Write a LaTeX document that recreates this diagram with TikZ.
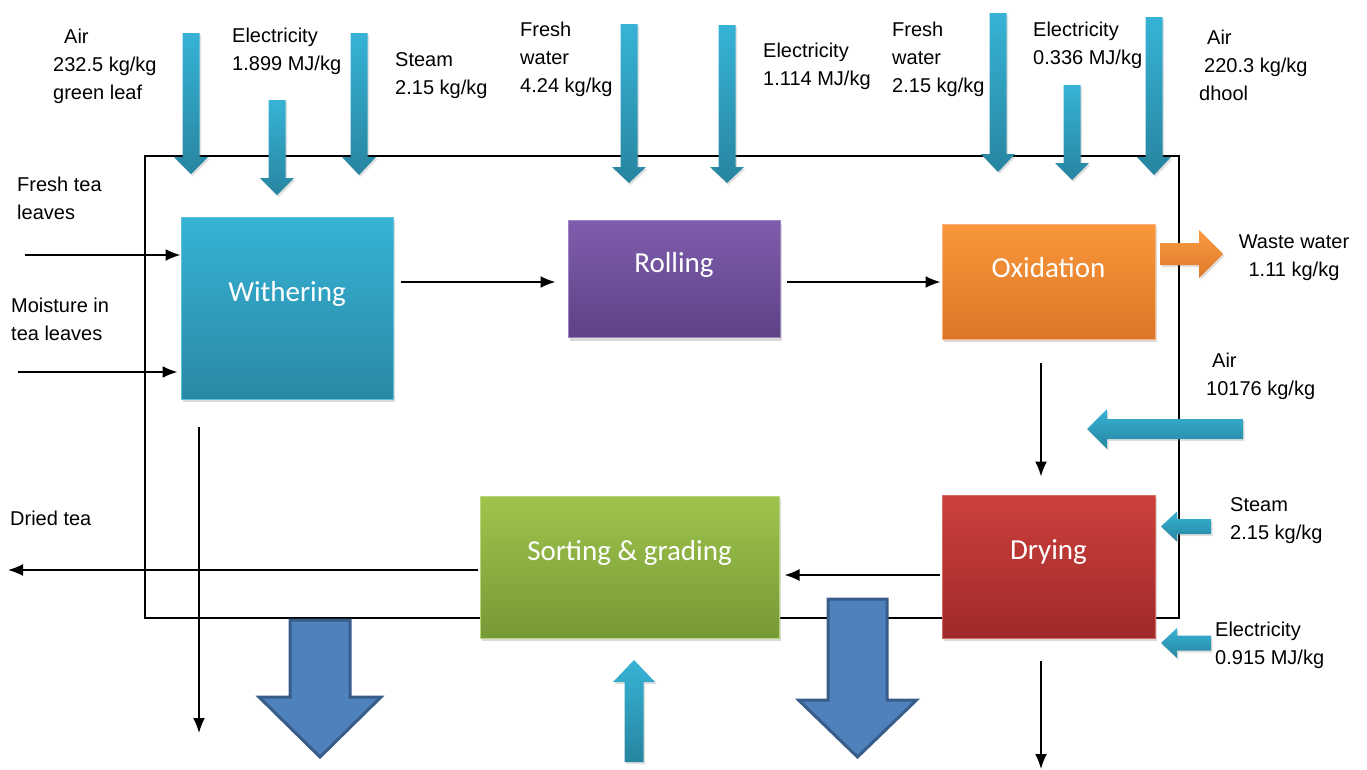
\documentclass[tikz,border=0pt]{standalone}
\usepackage{fontspec}
\setmainfont{Liberation Sans}
\newfontfamily\boxfont{Carlito}
\usetikzlibrary{arrows.meta,shadows}

\definecolor{witT}{HTML}{36B2D6}
\definecolor{witB}{HTML}{2A89A4}
\definecolor{witD}{HTML}{5CC3DF}
\definecolor{rolT}{HTML}{7F5DAD}
\definecolor{rolB}{HTML}{5D4285}
\definecolor{rolD}{HTML}{9C84C2}
\definecolor{oxiT}{HTML}{F9973A}
\definecolor{oxiB}{HTML}{DC7627}
\definecolor{oxiD}{HTML}{FAB47A}
\definecolor{dryT}{HTML}{CC403C}
\definecolor{dryB}{HTML}{9F2A29}
\definecolor{dryD}{HTML}{D86A66}
\definecolor{sorT}{HTML}{9EC44C}
\definecolor{sorB}{HTML}{769836}
\definecolor{sorD}{HTML}{B8D67E}
\definecolor{arrT}{HTML}{37B3D6}
\definecolor{arrB}{HTML}{2785A0}
\definecolor{bigF}{HTML}{4F81BD}
\definecolor{bigD}{HTML}{385D8A}
\definecolor{orT}{HTML}{F99B40}
\definecolor{orB}{HTML}{DF782A}

\newcommand\varr[7]{\path[#1] ({#2-#6},#3) -- ({#2+#6},#3) -- ({#2+#6},#4) -- ({#2+#7},#4) -- (#2,#5) -- ({#2-#7},#4) -- ({#2-#6},#4) -- cycle;}
\newcommand\harr[7]{\path[#1] (#3,{#2-#6}) -- (#4,{#2-#6}) -- (#4,{#2-#7}) -- (#5,#2) -- (#4,{#2+#7}) -- (#4,{#2+#6}) -- (#3,{#2+#6}) -- cycle;}

\tikzset{
  lbl/.style={anchor=north west, inner sep=0pt, align=left, font=\fontsize{20}{28}\selectfont},
  procbox/.style={rectangle, line width=1pt, inner sep=0pt,
    drop shadow={opacity=0.3, shadow xshift=2pt, shadow yshift=-3pt}},
  boxlbl/.style={text=white, font=\boxfont\fontsize{29}{33}\selectfont, inner sep=0pt, yshift=14pt},
  flow/.style={line width=1.7pt, -{Latex[length=15pt,width=12pt]}},
  tealarr/.style={top color=arrT, bottom color=arrB,
    drop shadow={opacity=0.25, shadow xshift=1.5pt, shadow yshift=-2pt}},
  bigarr/.style={fill=bigF, draw=bigD, line width=3pt, line join=miter},
  orarr/.style={top color=orT, bottom color=orB,
    drop shadow={opacity=0.25, shadow xshift=1.5pt, shadow yshift=-2pt}},
}

\begin{document}
\begin{tikzpicture}[x=1pt, y=-1pt]
\useasboundingbox (0,0) rectangle (1367,769);

% main boundary
\draw[line width=2pt] (145,156) rectangle (1179,618);

% process boxes
\node[procbox, top color=witT, bottom color=witB, draw=witD,
  minimum width=212pt, minimum height=182pt,
  label={[boxlbl]center:Withering}] (wit) at (287,308) {};
\node[procbox, top color=rolT, bottom color=rolB, draw=rolD,
  minimum width=212pt, minimum height=117pt,
  label={[boxlbl]center:Rolling}] (rol) at (674,279) {};
\node[procbox, top color=oxiT, bottom color=oxiB, draw=oxiD,
  minimum width=213pt, minimum height=115pt,
  label={[boxlbl]center:Oxidation}] (oxi) at (1048.5,281.5) {};
\node[procbox, top color=dryT, bottom color=dryB, draw=dryD,
  minimum width=213pt, minimum height=143pt,
  label={[boxlbl]center:Drying}] (dry) at (1048.5,566.5) {};
\node[procbox, top color=sorT, bottom color=sorB, draw=sorD,
  minimum width=299pt, minimum height=142pt,
  label={[boxlbl]center:Sorting \& grading}] (sor) at (629.5,567) {};

% top input arrows
\varr{tealarr}{191}{33}{157}{174}{8.5}{17}
\varr{tealarr}{277}{100}{178}{195}{8.5}{17}
\varr{tealarr}{359}{33}{157}{175}{8.5}{17}
\varr{tealarr}{629}{24}{167}{183}{8.5}{17}
\varr{tealarr}{727}{25}{167}{183}{8.5}{17}
\varr{tealarr}{998}{13}{154}{172}{8.5}{17}
\varr{tealarr}{1072}{85}{163}{180}{8.5}{17}
\varr{tealarr}{1154}{17}{157}{175}{8.5}{17}

% right side input arrows
\harr{tealarr}{429}{1243}{1107}{1087}{10}{20}
\harr{tealarr}{526.5}{1211}{1177}{1161}{7.5}{15}
\harr{tealarr}{643}{1211}{1177}{1161}{7.5}{15}

% waste water arrow
\harr{orarr}{254}{1160}{1199}{1223}{11}{24}

% bottom arrows
\varr{bigarr}{320}{620}{697}{757}{30}{61}
\varr{bigarr}{857.5}{599}{700}{757}{29.5}{59}
\varr{tealarr}{634}{762}{682}{660}{9.5}{21}

% connectors
\coordinate (ftl) at (25,255);
\coordinate (mtl) at (18,372);
\coordinate (dte) at (8,570);
\coordinate (wdn) at (199,733);
\coordinate (ddn) at (1041,769);
\coordinate (rin) at ([yshift=-3pt]rol.west);
\coordinate (oin) at ([yshift=-0.5pt]oxi.west);
\draw[flow] (ftl) -- (ftl -| wit.west);
\draw[flow, shorten >=3pt] (mtl) -- (mtl -| wit.west);
\draw[flow, shorten <=7pt, shorten >=12pt] (wit.east |- rin) -- (rin);
\draw[flow, shorten <=6pt, shorten >=1pt] (rol.east |- oin) -- (oin);
\draw[flow, shorten <=23pt, shorten >=18pt] ([xshift=-7.5pt]oxi.south) -- ([xshift=-7.5pt]dry.north);
\draw[flow, shorten <=2pt, shorten >=5pt] ([yshift=-8.5pt]dry.west) -- ([yshift=-8.5pt]dry.west -| sor.east);
\draw[flow, shorten <=2pt] ([yshift=-3pt]sor.west) -- (dte);
\draw[flow, shorten <=27pt] ([xshift=-88pt]wit.south) -- (wdn);
\draw[flow, shorten <=22pt] ([xshift=-7.5pt]dry.south) -- (ddn);

% labels
\node[lbl] (l1) at (53,29) {\hspace*{11pt}Air\\232.5 kg/kg\\green leaf};
\node[lbl] (l2) at (232,28) {Electricity\\1.899 MJ/kg};
\node[lbl] (l3) at (395,52) {Steam\\2.15 kg/kg};
\node[lbl] (l4) at (520,22) {Fresh\\water\\4.24 kg/kg};
\node[lbl] (l5) at (763,43) {Electricity\\1.114 MJ/kg};
\node[lbl] (l6) at (892,22) {Fresh\\water\\2.15 kg/kg};
\node[lbl] (l7) at (1033,22) {Electricity\\0.336 MJ/kg};
\node[lbl] (l8) at (1199,30) {\hspace*{8pt}Air\\\hspace*{5pt}220.3 kg/kg\\dhool};
\node[lbl, anchor=north, align=center] (l9) at (1294,235) {Waste water\\1.11 kg/kg};
\node[lbl] (l10) at (1206,353) {\hspace*{6pt}Air\\10176 kg/kg};
\node[lbl] (l11) at (1230,497) {Steam\\2.15 kg/kg};
\node[lbl] (l12) at (1215,622) {Electricity\\0.915 MJ/kg};
\node[lbl] (l13) at (17,177) {Fresh tea\\leaves};
\node[lbl] (l14) at (11,298) {Moisture in\\tea leaves};
\node[lbl] (l15) at (10,511) {Dried tea};
\end{tikzpicture}
\end{document}
